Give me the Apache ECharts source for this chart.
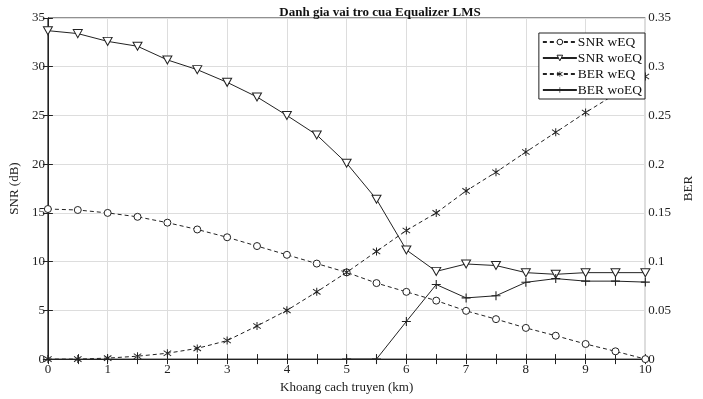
<!DOCTYPE html>
<html><head><meta charset="utf-8">
<script src="https://cdn.jsdelivr.net/npm/echarts@6/dist/echarts.min.js"></script>
<style>html,body{margin:0;padding:0;background:#fff}#c{width:703px;height:399px}</style>
</head><body><div id="c"></div>
<script>
const distances = [0,0.5,1,1.5,2,2.5,3,3.5,4,4.5,5,5.5,6,6.5,7,7.5,8,8.5,9,9.5,10];
const snrWEQ   = [15.4,15.3,15.0,14.6,14.0,13.3,12.5,11.6,10.7,9.8,8.9,7.8,6.9,6.0,4.95,4.1,3.2,2.4,1.55,0.8,0];
const snrWoEQ  = [33.7,33.4,32.6,32.1,30.7,29.7,28.4,26.9,25.0,23.0,20.1,16.4,11.2,9.0,9.76,9.6,8.87,8.7,8.87,8.87,8.87];
const berWEQ   = [0,0,0.001,0.003,0.006,0.011,0.019,0.034,0.050,0.069,0.089,0.1105,0.132,0.150,0.1726,0.1918,0.2125,0.2327,0.253,0.272,0.290];
const berWoEQ  = [null,null,null,null,null,null,null,null,null,null,0,0,0.0386,0.0765,0.0628,0.065,0.0788,0.0826,0.080,0.080,0.079];
const xTicks = [0,1,2,3,4,5,6,7,8,9,10];
const snrTicks = [0,5,10,15,20,25,30,35];
const berTicks = [0,0.05,0.1,0.15,0.2,0.25,0.3,0.35];

const FONT = '"Liberation Serif", "DejaVu Serif", serif';
const pair = arr => distances.map((x,i)=>[x,arr[i]]);
const triDown = 'path://M0,0 L10,0 L5,9 Z';
const plus = 'path://M4.4,0 L5.6,0 L5.6,4.4 L10,4.4 L10,5.6 L5.6,5.6 L5.6,10 L4.4,10 L4.4,5.6 L0,5.6 L0,4.4 L4.4,4.4 Z';
const star = 'path://M4.4,0 L5.6,0 L5.6,10 L4.4,10 Z M0.2,2.2 L0.8,1.2 L9.8,7.8 L9.2,8.8 Z M9.2,1.2 L9.8,2.2 L0.8,8.8 L0.2,7.8 Z';

const chart = echarts.init(document.getElementById('c'), null, {renderer:'canvas'});
const labelStyle = {color:'#222', fontFamily:FONT, fontSize:13};
chart.setOption({
  animation:false,
  backgroundColor:'#fff',
  title:{text:'Danh gia vai tro cua Equalizer LMS', left:375, top:1, textAlign:'center',
    textStyle:{fontFamily:FONT, fontSize:13, fontWeight:'bold', color:'#111'}},
  grid:{left:45, right:42, top:18, bottom:39, show:true, borderColor:'#222', borderWidth:1},
  legend:{
    orient:'vertical', right:58, top:33, itemWidth:34, itemHeight:7, itemGap:2,
    backgroundColor:'#fff', borderColor:'#222', borderWidth:1, borderRadius:0, padding:[2,3,2,3],
    itemStyle:{borderWidth:1},
    textStyle:{fontFamily:FONT, fontSize:13.5, color:'#111', padding:[0,0,0,-4]},
    data:['SNR wEQ','SNR woEQ','BER wEQ','BER woEQ']
  },
  xAxis:[{
    type:'value', min:0, max:10, interval:1,
    name:'Khoang cach truyen (km)', nameLocation:'middle', nameGap:17,
    nameTextStyle:{fontFamily:FONT, fontSize:13, color:'#222'},
    axisLine:{lineStyle:{color:'#222'}},
    axisTick:{inside:true, length:5, lineStyle:{color:'#222'}},
    minorTick:{show:true, splitNumber:2, length:5, lineStyle:{color:'#222'}},
    axisLabel:Object.assign({margin:4}, labelStyle),
    splitLine:{show:true, lineStyle:{color:'#ddd'}}
  },{
    type:'value', min:0, max:10, interval:1, position:'top',
    axisLine:{lineStyle:{color:'#222'}},
    axisTick:{inside:true, length:5, lineStyle:{color:'#222'}},
    minorTick:{show:true, splitNumber:2, length:5, lineStyle:{color:'#222'}},
    axisLabel:{show:false}, splitLine:{show:false}
  }],
  yAxis:[{
    type:'value', min:0, max:35, interval:5,
    name:'SNR (dB)', nameLocation:'middle', nameGap:24, nameRotate:90,
    nameTextStyle:{fontFamily:FONT, fontSize:13, color:'#222'},
    axisLine:{show:true, lineStyle:{color:'#222'}},
    axisTick:{inside:true, length:5, lineStyle:{color:'#222'}},
    axisLabel:Object.assign({margin:3}, labelStyle),
    splitLine:{show:true, lineStyle:{color:'#ddd'}}
  },{
    type:'value', min:0, max:0.35, interval:0.05, position:'right',
    name:'BER', nameLocation:'middle', nameGap:30, nameRotate:90,
    nameTextStyle:{fontFamily:FONT, fontSize:13, color:'#222'},
    axisLine:{show:true, lineStyle:{color:'#222'}},
    axisTick:{inside:true, length:5, lineStyle:{color:'#222'}},
    axisLabel:Object.assign({margin:3, formatter:v=>String(+v.toFixed(2))}, labelStyle),
    splitLine:{show:false}
  }],
  series:[
    {name:'SNR wEQ', type:'line', yAxisIndex:0, data:pair(snrWEQ),
     symbol:'circle', symbolSize:7, showAllSymbol:true,
     itemStyle:{color:'#fff', borderColor:'#222', borderWidth:1},
     lineStyle:{color:'#222', width:1, type:[4,3]}},
    {name:'SNR woEQ', type:'line', yAxisIndex:0, data:pair(snrWoEQ),
     symbol:triDown, symbolSize:[9,8], showAllSymbol:true,
     itemStyle:{color:'#fff', borderColor:'#222', borderWidth:1},
     lineStyle:{color:'#222', width:1}},
    {name:'BER wEQ', type:'line', yAxisIndex:1, data:pair(berWEQ),
     symbol:star, symbolSize:8, showAllSymbol:true,
     itemStyle:{color:'#222'},
     lineStyle:{color:'#222', width:1, type:[4,3]}},
    {name:'BER woEQ', type:'line', yAxisIndex:1, data:pair(berWoEQ),
     symbol:plus, symbolSize:9, showAllSymbol:true,
     itemStyle:{color:'#222'},
     lineStyle:{color:'#222', width:1}}
  ]
});
</script></body></html>
